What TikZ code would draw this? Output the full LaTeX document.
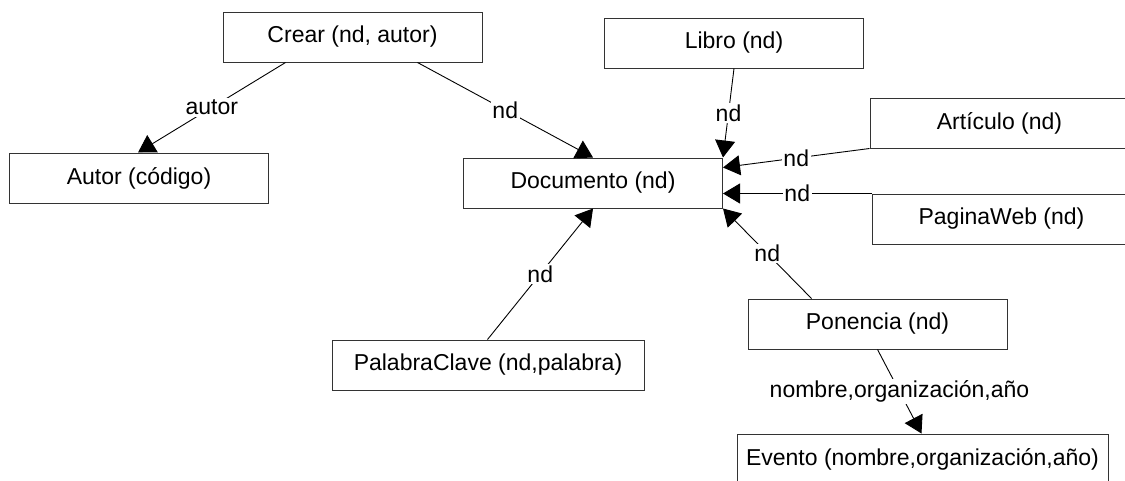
\documentclass[tikz,border=0pt]{standalone}
\usepackage{fontspec}
\setmainfont{Liberation Sans}
\usetikzlibrary{arrows.meta,calc}
\begin{document}
\begin{tikzpicture}[x=1pt,y=-1pt,
  box/.style={draw=black!80, line width=1pt, fill=white, minimum width=259pt,
    minimum height=50pt, inner sep=0pt, font=\fontsize{23}{27}\selectfont},
  conn/.style={draw=black, line width=0.9pt, -{Triangle[length=17pt,width=20pt]}},
  lbl/.style={fill=white, inner sep=1.5pt, font=\fontsize{23}{27}\selectfont}]
\useasboundingbox (0,0) rectangle (1125,480);
\clip (0,0) rectangle (1125,480);
\fill[white] (0,0) rectangle (1125,480);
% boxes
\node[box] (crear) at (352.5,37) {Crear (nd, autor)};
\node[box] (autor) at (139,178) {Autor (código)};
\node[box] (doc) at (593,183) {Documento (nd)};
\node[box] (libro) at (734,43) {Libro (nd)};
\node[box] (articulo) at (999.5,123) {Artículo (nd)};
\node[box] (pagina) at (1001.5,219) {PaginaWeb (nd)};
\node[box] (ponencia) at (877.5,324) {Ponencia (nd)};
\node[box, minimum width=312pt] (palabra) at (488,365) {PalabraClave (nd,palabra)};
\node[box, minimum width=371pt] (evento) at (922.5,459) {Evento (nombre,organización,año)};
% connectors
\draw[conn] ($(crear.south west)+(63,0)$) -- node[lbl]{autor} ($(autor.north west)+(129,0)$);
\draw[conn] ($(crear.south west)+(195,0)$) -- node[lbl]{nd} (doc.north);
\draw[conn] (libro.south) -- node[lbl]{nd} (doc.north east);
\draw[conn] (articulo.south west) -- node[lbl]{nd} ($(doc.north east)+(0,10)$);
\draw[conn] (pagina.north west) -- node[lbl]{nd} (pagina.north west -| doc.east);
\draw[conn] ($(ponencia.north west)+(64,0)$) -- node[lbl]{nd} (doc.south east);
\draw[conn] ($(palabra.north west)+(156,0)$) -- node[lbl]{nd} (doc.south);
\draw[conn] (ponencia.south) -- node[lbl]{nombre,organización,año} ($(evento.north west)+(185,0)$);
\end{tikzpicture}
\end{document}
